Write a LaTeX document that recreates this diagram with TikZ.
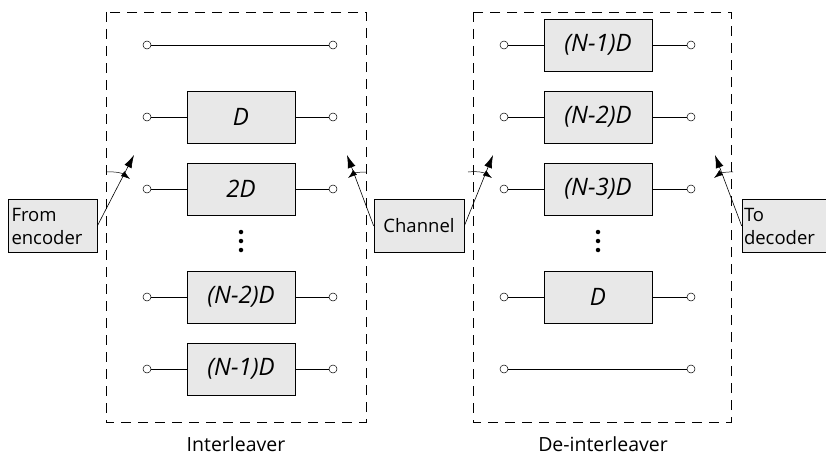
\documentclass[tikz,border=0pt]{standalone}
\usepackage{fontspec}
\setmainfont{Open Sans}
\usetikzlibrary{arrows.meta}
\begin{document}
\begin{tikzpicture}[x=1pt,y=-1pt,
  every node/.style={font=\fontsize{18.5}{23}\selectfont},
  dbox/.style={draw, line width=0.6pt, fill=gray!18, minimum width=108pt, minimum height=52pt, inner sep=0pt, font=\fontsize{24}{28}\selectfont\itshape},
  port/.style={circle, draw, fill=white, line width=0.5pt, minimum size=8pt, inner sep=0pt},
  wire/.style={line width=0.6pt},
  frame/.style={draw, line width=0.6pt, dash pattern=on 10pt off 7pt},
  iobox/.style={draw, line width=0.6pt, fill=gray!18, minimum width=89pt, minimum height=53pt, inner sep=0pt, align=left, text width=80pt},
  sw/.style={line width=0.6pt, -{Latex[length=13pt,width=8pt]}},
  rot/.style={line width=0.5pt, -{Latex[length=9pt,width=6pt]}},
  dot/.style={circle, fill=black, minimum size=4.5pt, inner sep=0pt}]
\useasboundingbox (0,0) rectangle (826,460);
% frames
\draw[frame] (106,12) rectangle (366,422);
\draw[frame] (473,12) rectangle (731,422);
% Interleaver rows
\node[port] (a1l) at (147,45) {};
\node[port] (a1r) at (333,45) {};
\draw[wire] (a1l) -- (a1r);
\node[port] (a2l) at (147,117) {};
\node[port] (a2r) at (333,117) {};
\node[dbox] (a2) at (241,117) {D};
\draw[wire] (a2l) -- (a2); \draw[wire] (a2) -- (a2r);
\node[port] (a3l) at (147,189) {};
\node[port] (a3r) at (333,189) {};
\node[dbox] (a3) at (241,189) {2D};
\draw[wire] (a3l) -- (a3); \draw[wire] (a3) -- (a3r);
\node[dot] (ad1) at (241,232) {};
\node[dot] (ad2) at (241,241) {};
\node[dot] (ad3) at (241,250) {};
\node[port] (a4l) at (147,297) {};
\node[port] (a4r) at (333,297) {};
\node[dbox] (a4) at (241,297) {(N-2)D};
\draw[wire] (a4l) -- (a4); \draw[wire] (a4) -- (a4r);
\node[port] (a5l) at (147,369) {};
\node[port] (a5r) at (333,369) {};
\node[dbox] (a5) at (241,369) {(N-1)D};
\draw[wire] (a5l) -- (a5); \draw[wire] (a5) -- (a5r);
% De-interleaver rows
\node[port] (b1l) at (504,45) {};
\node[port] (b1r) at (691,45) {};
\node[dbox] (b1) at (598,45) {(N-1)D};
\draw[wire] (b1l) -- (b1); \draw[wire] (b1) -- (b1r);
\node[port] (b2l) at (504,117) {};
\node[port] (b2r) at (691,117) {};
\node[dbox] (b2) at (598,117) {(N-2)D};
\draw[wire] (b2l) -- (b2); \draw[wire] (b2) -- (b2r);
\node[port] (b3l) at (504,189) {};
\node[port] (b3r) at (691,189) {};
\node[dbox] (b3) at (598,189) {(N-3)D};
\draw[wire] (b3l) -- (b3); \draw[wire] (b3) -- (b3r);
\node[dot] (bd1) at (598,232) {};
\node[dot] (bd2) at (598,241) {};
\node[dot] (bd3) at (598,250) {};
\node[port] (b4l) at (504,297) {};
\node[port] (b4r) at (691,297) {};
\node[dbox] (b4) at (598,297) {D};
\draw[wire] (b4l) -- (b4); \draw[wire] (b4) -- (b4r);
\node[port] (b5l) at (504,369) {};
\node[port] (b5r) at (691,369) {};
\draw[wire] (b5l) -- (b5r);
% io boxes
\node[iobox, text width=82pt] (enc) at (52.5,226) {From\\encoder};
\node[iobox, minimum width=90pt, text width=88pt, align=center] (ch) at (419,226) {Channel};
\node[iobox, minimum width=84pt, text width=80pt] (dec) at (784,226) {To\\decoder};
% switches
\coordinate (t1) at (134,155);
\coordinate (t2) at (347,155);
\coordinate (t3) at (493,155);
\coordinate (t4) at (715,155);
\draw[sw] (enc.east) -- (t1);
\draw[sw] (ch.west) -- (t2);
\draw[sw] (ch.east) -- (t3);
\draw[sw] (dec.west) -- (t4);
% rotation arcs
\coordinate (r1s) at (106,172); \coordinate (r1e) at (130,179);
\coordinate (r2s) at (366,172); \coordinate (r2e) at (348,178);
\coordinate (r3s) at (468,172); \coordinate (r3e) at (492,178);
\coordinate (r4s) at (733,172); \coordinate (r4e) at (714,178);
\draw[rot] (r1s) to[bend left=20] (r1e);
\draw[rot] (r2s) to[bend right=20] (r2e);
\draw[rot] (r3s) to[bend left=20] (r3e);
\draw[rot] (r4s) to[bend right=20] (r4e);
% labels
\node[font=\fontsize{19.5}{23}\selectfont] (lab1) at (236,444) {Interleaver};
\node[font=\fontsize{19.5}{23}\selectfont] (lab2) at (603,444) {De-interleaver};
\end{tikzpicture}
\end{document}
